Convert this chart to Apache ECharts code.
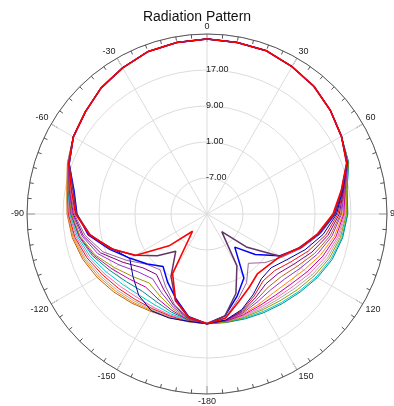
<!DOCTYPE html>
<html>
<head>
<meta charset="utf-8">
<script src="https://cdn.jsdelivr.net/npm/echarts@6/dist/echarts.min.js"></script>
<style>
  html, body { margin: 0; padding: 0; background: #fff; }
  #chart { width: 394px; height: 406px; }
</style>
</head>
<body>
<div id="chart"></div>
<script>
// angles of every sample, -180 .. 180 in steps of 10 degrees
const anglesDeg = [-180, -170, -160, -150, -140, -130, -120, -110, -100, -90, -80, -70,
  -60, -50, -40, -30, -20, -10, 0, 10, 20, 30, 40, 50, 60,
  70, 80, 90, 100, 110, 120, 130, 140, 150, 160, 170, 180];

// gain at the back (+/-180), same for every curve
const rearGain = 9.4;
// main lobe, -60 .. 60, the curves lie on top of each other here
const frontGain = [19.3, 20.3, 21.6, 22.5, 23.4, 23.7, 23.9, 23.7, 23.6, 22.8, 22.0, 20.8, 19.5];

// left side: -170 .. -70, right side: 70 .. 170
const brownLeft = [9.3, 9.5, 10.0, 10.9, 12.0, 13.2, 14.4, 15.4, 16.1, 16.6, 18.0];
const brownRight = [18.2, 15.9, 14.7, 12.8, 10.5, 8.2, 6.6, 6.2, 7.0, 8.2, 9.1];
const orangeLeft = [9.3, 9.4, 9.8, 10.6, 11.6, 12.8, 14.1, 15.2, 16.0, 16.6, 18.0];
const orangeRight = [18.3, 16.1, 15.2, 13.7, 11.8, 9.9, 8.5, 7.9, 8.1, 8.6, 9.2];
const grayLeft = [9.3, 9.3, 9.6, 10.2, 11.2, 12.4, 13.8, 15.0, 15.9, 16.5, 18.0];
const grayRight = [18.4, 16.4, 15.8, 14.8, 13.5, 12.0, 10.6, 9.7, 9.3, 9.2, 9.3];
const red2Left = [9.2, 9.1, 9.3, 9.8, 10.7, 11.9, 13.4, 14.8, 15.8, 16.5, 17.9];
const red2Right = [18.2, 15.7, 14.1, 11.8, 9.0, 6.4, 4.6, 4.4, 6.0, 7.8, 9.0];
const pinkLeft = [9.1, 8.9, 8.9, 9.2, 10.1, 11.4, 13.0, 14.5, 15.6, 16.4, 17.9];
const pinkRight = [18.4, 16.3, 15.6, 14.5, 13.0, 11.4, 10.0, 9.2, 8.9, 9.0, 9.3];
const cyanLeft = [9.0, 8.6, 8.3, 8.5, 9.4, 10.8, 12.6, 14.2, 15.5, 16.3, 17.9];
const cyanRight = [18.5, 16.6, 16.2, 15.4, 14.3, 13.0, 11.7, 10.7, 10.0, 9.6, 9.4];
const tealLeft = [8.9, 8.2, 7.5, 7.4, 8.4, 10.0, 12.1, 13.9, 15.3, 16.3, 17.8];
const tealRight = [18.5, 16.6, 16.3, 15.6, 14.6, 13.3, 12.0, 11.0, 10.3, 9.8, 9.5];
const magentaLeft = [8.9, 7.8, 6.8, 6.2, 7.5, 9.4, 11.8, 13.8, 15.2, 16.2, 17.8];
const magentaRight = [18.3, 16.2, 15.4, 14.1, 12.4, 10.7, 9.3, 8.6, 8.5, 8.8, 9.2];
const oliveLeft = [8.8, 7.4, 6.0, 5.0, 6.6, 8.8, 11.5, 13.6, 15.1, 16.2, 17.8];
const oliveRight = [18.4, 16.5, 16.0, 15.1, 13.9, 12.5, 11.2, 10.2, 9.6, 9.4, 9.4];
const violetLeft = [8.7, 7.0, 5.2, 3.8, 5.0, 7.6, 10.8, 13.2, 14.9, 16.1, 17.8];
const violetRight = [18.3, 16.0, 14.9, 13.2, 11.1, 9.0, 7.5, 7.0, 7.5, 8.4, 9.1];
const purpleLeft = [8.6, 6.6, 4.3, 2.5, 3.6, 6.5, 10.2, 12.9, 14.7, 16.0, 17.7];
const purpleRight = [18.2, 15.8, 14.4, 12.3, 9.8, 7.3, 5.6, 5.3, 6.5, 8.0, 9.0];
const mauveLeft = [8.6, 6.3, 3.5, 1.2, 2.4, 5.6, 9.6, 12.5, 14.5, 15.9, 17.7];
const mauveRight = [18.1, 15.5, 13.6, 10.6, 7.3, 4.2, 1.8, -0.7, 2.6, 5.2, 8.4];
const navyLeft = [9.2, 9.6, 9.8, 8.6, 6.5, 4.8, 7.4, 11.6, 14.0, 15.2, 17.6];
const navyRight = [18.1, 15.6, 13.8, 11.2, 8.2, 5.4, 3.6, 3.8, 5.6, 7.6, 8.9];
const blueLeft = [8.2, 5.1, 2.5, 0.2, 2.3, 4.7, 8.0, 11.8, 13.9, 15.0, 17.6];
const blueRight = [18.1, 15.4, 13.4, 10.3, 7.0, 3.6, -1.0, -5.4, 1.4, 4.5, 8.0];
const plumLeft = [8.4, 5.5, 1.0, -4.2, -0.6, 3.3, 7.8, 11.4, 14.0, 15.2, 17.6];
const plumRight = [18.1, 15.4, 13.3, 10.2, 6.8, 3.9, -3.6, -9.9, -1.7, 3.8, 8.0];
const redLeft = [8.3, 5.4, 0.3, -10.0, -4.0, 3.4, 7.6, 11.5, 14.2, 15.6, 17.7];
const redRight = [18.0, 15.3, 13.0, 10.0, 7.0, 3.8, 2.8, 2.4, 3.8, 5.7, 8.5];

const curves = [
  { color: '#b5651d', left: brownLeft, right: brownRight },
  { color: '#ff8c00', left: orangeLeft, right: orangeRight },
  { color: '#a9a9a9', left: grayLeft, right: grayRight },
  { color: '#ee1111', left: red2Left, right: red2Right },
  { color: '#ff69b4', left: pinkLeft, right: pinkRight },
  { color: '#00cdcd', left: cyanLeft, right: cyanRight },
  { color: '#008b8b', left: tealLeft, right: tealRight },
  { color: '#cc0099', left: magentaLeft, right: magentaRight },
  { color: '#999900', left: oliveLeft, right: oliveRight },
  { color: '#9932cc', left: violetLeft, right: violetRight },
  { color: '#800080', left: purpleLeft, right: purpleRight },
  { color: '#996699', left: mauveLeft, right: mauveRight },
  { color: '#000099', left: navyLeft, right: navyRight },
  { color: '#0000ff', left: blueLeft, right: blueRight, width: 1.5 },
  { color: '#663366', left: plumLeft, right: plumRight, width: 1.5 },
  { color: '#ff0000', left: redLeft, right: redRight, width: 1.6 }
];

// the angle axis runs 0..360 clockwise from the top; negative angles wrap round
function buildCurve(left, right) {
  const gains = [rearGain].concat(left, frontGain, right, [rearGain]);
  return gains.map((g, i) => [g, anglesDeg[i] < 0 ? anglesDeg[i] + 360 : anglesDeg[i]]);
}

const chart = echarts.init(document.getElementById('chart'), null, { renderer: 'canvas' });

chart.setOption({
  animation: false,
  title: {
    text: 'Radiation Pattern',
    left: 'center',
    top: 5,
    textStyle: { fontFamily: 'Liberation Sans', fontSize: 14, fontWeight: 'normal', color: '#111' }
  },
  polar: {
    center: [207, 214],
    radius: 180
  },
  angleAxis: {
    type: 'value',
    min: 0,
    max: 360,
    interval: 30,
    startAngle: 90,
    clockwise: true,
    axisLine: { lineStyle: { color: '#555', width: 1 } },
    axisTick: { inside: true, length: 8, lineStyle: { color: '#555' } },
    minorTick: { show: true, splitNumber: 6, length: 4, lineStyle: { color: '#555' } },
    axisLabel: {
      margin: 3,
      fontFamily: 'Liberation Sans',
      fontSize: 9,
      color: '#222',
      formatter: v => String(v >= 180 ? v - 360 : v)
    },
    splitLine: { show: true, lineStyle: { color: '#dcdcdc', width: 1 } }
  },
  radiusAxis: {
    type: 'value',
    min: -15,
    max: 25,
    interval: 8,
    axisLine: { show: false },
    axisTick: { show: false },
    axisLabel: {
      margin: 1,
      align: 'left',
      verticalAlign: 'middle',
      fontFamily: 'Liberation Sans',
      fontSize: 9,
      color: '#222',
      formatter: v => (v === -15 || v === 25) ? '' : v.toFixed(2)
    },
    splitLine: { show: true, lineStyle: { color: '#dcdcdc', width: 1 } }
  },
  series: curves.map(c => ({
    type: 'line',
    coordinateSystem: 'polar',
    symbol: 'none',
    data: buildCurve(c.left, c.right),
    lineStyle: { color: c.color, width: c.width || 1 },
    itemStyle: { color: c.color }
  }))
});
</script>
</body>
</html>
